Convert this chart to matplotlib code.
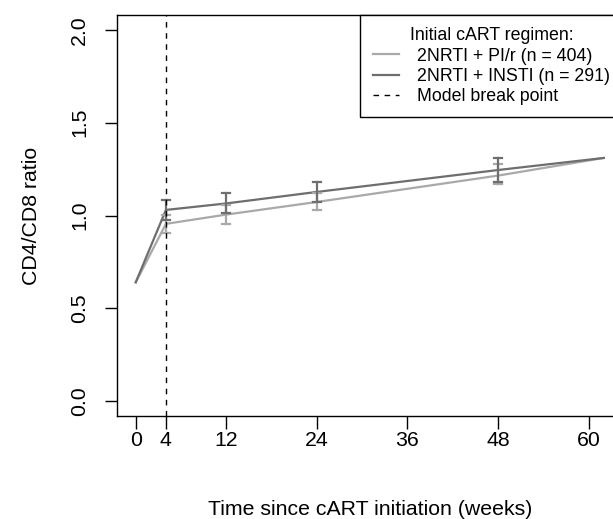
import numpy as np
import matplotlib.pyplot as plt

plt.rcParams['font.family'] = ['Liberation Sans', 'DejaVu Sans']

# data
weeks = [0, 4, 12, 24, 48, 62]
pi_mean = [0.64, 0.955, 1.005, 1.073, 1.215, 1.31]
insti_mean = [0.64, 1.03, 1.065, 1.127, 1.245, 1.31]

ci_weeks = [4, 12, 24, 48]
pi_low = [0.905, 0.955, 1.027, 1.17]
pi_high = [1.005, 1.055, 1.12, 1.28]
insti_low = [0.975, 1.015, 1.075, 1.18]
insti_high = [1.085, 1.12, 1.18, 1.31]

xticks = [0, 4, 12, 24, 36, 48, 60]
yticks = [0.0, 0.5, 1.0, 1.5, 2.0]

col_pi = '#a9a9a9'
col_insti = '#6e6e6e'

W, H = 613, 519
fig = plt.figure(figsize=(W / 100, H / 100), dpi=100)
left, right, top, bottom = 117, 622.5, 15, 416
ax = fig.add_axes([left / W, (H - bottom) / H, (right - left) / W, (bottom - top) / H])

ax.plot(weeks, pi_mean, color=col_pi, lw=1.6, label='2NRTI + PI/r (n = 404)')
ax.plot(weeks, insti_mean, color=col_insti, lw=1.6, label='2NRTI + INSTI (n = 291)')


def barras(xs, lo, hi, color):
    for x, a, b in zip(xs, lo, hi):
        ax.plot([x, x], [a, b], color=color, lw=1.6)
        ax.plot([x - 0.55, x + 0.55], [a, a], color=color, lw=1.6)
        ax.plot([x - 0.55, x + 0.55], [b, b], color=color, lw=1.6)


barras(ci_weeks, pi_low, pi_high, col_pi)
barras(ci_weeks, insti_low, insti_high, col_insti)

ax.axvline(4, color='black', lw=1, linestyle=(0, (4, 4)), label='Model break point')

ax.set_xlim(-2.48, 64.48)
ax.set_ylim(-0.08, 2.08)
ax.set_xticks(xticks)
ax.set_yticks(yticks)
ax.set_yticklabels(['%.1f' % v for v in yticks], rotation=90, va='center')
ax.tick_params(direction='out', length=9, width=1, labelsize=15.3)
ax.tick_params(axis='x', pad=2)
ax.tick_params(axis='y', pad=11)
for s in ax.spines.values():
    s.set_linewidth(1)

ax.set_xlabel('Time since cART initiation (weeks)', fontsize=15.3, labelpad=35.5)
ax.set_ylabel('CD4/CD8 ratio', fontsize=15.3, labelpad=21)

leg = ax.legend(loc='upper right', bbox_to_anchor=(1, 1), borderaxespad=0,
                title='Initial cART regimen:', fontsize=12.8, title_fontsize=12.8,
                fancybox=False, framealpha=1, edgecolor='black',
                borderpad=0.7, handlelength=1.5, handletextpad=1.0,
                labelspacing=0.18)
leg.get_frame().set_linewidth(1)

fig.savefig('out.png', dpi=100)
